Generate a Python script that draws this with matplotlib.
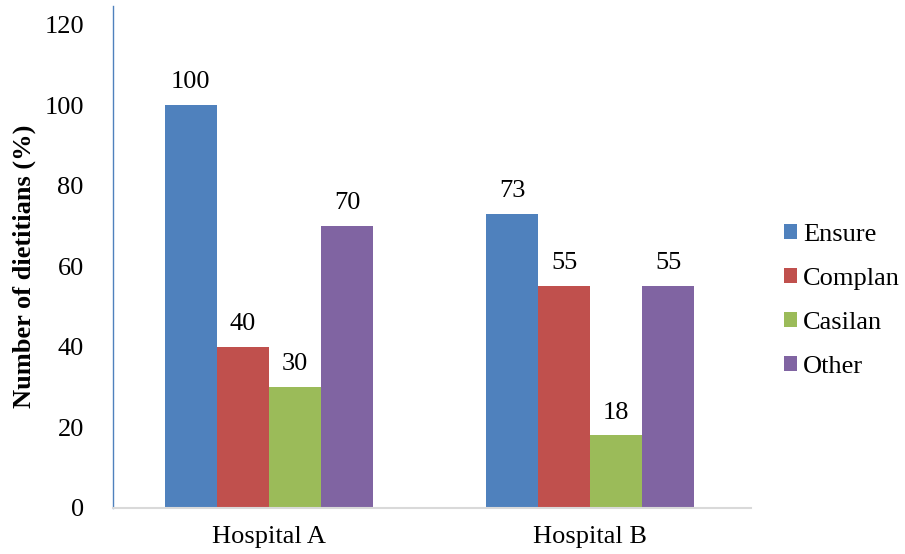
import matplotlib
matplotlib.use("Agg")
import matplotlib.pyplot as plt
import numpy as np

categories = ["Hospital A", "Hospital B"]
series_names = ["Ensure", "Complan", "Casilan", "Other"]
ensure = [100, 73]
complan = [40, 55]
casilan = [30, 18]
other = [70, 55]
values = [ensure, complan, casilan, other]
colors = ["#4F81BD", "#C0504D", "#9BBB59", "#8064A2"]
yticks = [0, 20, 40, 60, 80, 100, 120]

plt.rcParams['font.family'] = ['Liberation Serif', 'DejaVu Serif']
FS = 19

fig = plt.figure(figsize=(9.05, 5.54), dpi=100)
ax = fig.add_axes([113/905, 46/554, (751-113)/905, (508-6)/554])

x = np.arange(len(categories))
w = 0.162
for i, (name, vals, c) in enumerate(zip(series_names, values, colors)):
    pos = x + (i - 1.5) * w
    ax.bar(pos, vals, width=w, color=c, label=name)
    for p, v in zip(pos, vals):
        ax.annotate(str(v), (p, v), xytext=(0, 12.2), textcoords="offset points",
                    ha="center", va="baseline", fontsize=FS)

ax.set_xlim(-0.485, 1.5)
ax.set_ylim(0, 502/4.03)
ax.set_yticks(yticks)
ax.set_yticklabels([str(t) for t in yticks], fontsize=FS)
ax.set_xticks(x)
ax.set_xticklabels(categories, fontsize=FS)
ax.tick_params(axis='both', length=0)
ax.tick_params(axis='y', pad=21)
ax.tick_params(axis='x', pad=13)
for s in ["top", "right"]:
    ax.spines[s].set_visible(False)
ax.spines["left"].set_color("#4F81BD")
ax.spines["left"].set_linewidth(1.0)
ax.spines["bottom"].set_color("#D9D9D9")
ax.spines["bottom"].set_linewidth(1.5)
ax.set_ylabel("Number of dietitians (%)", fontsize=FS, fontweight="bold")
ax.yaxis.set_label_coords(-(113 - 36) / 638, (508 - 266) / 502)

leg = fig.legend(loc="center left", bbox_to_anchor=(760/905, 1 - 301/554), frameon=False,
                 fontsize=FS, handlelength=0.52, handleheight=0.52, handletextpad=0.22,
                 labelspacing=0.83)

fig.savefig("out.png", dpi=100)
